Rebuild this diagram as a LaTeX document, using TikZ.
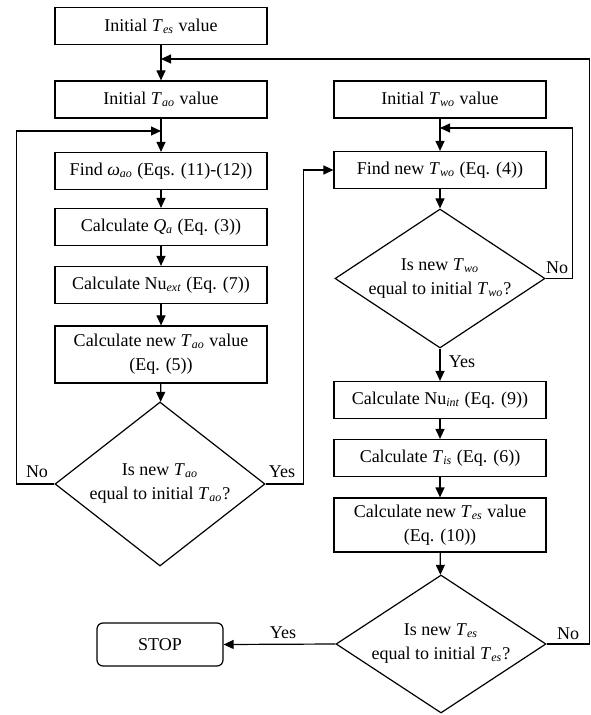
\documentclass[tikz,border=0pt]{standalone}
\usepackage{fontspec}
\setmainfont{Liberation Serif}
\usetikzlibrary{shapes.geometric,arrows.meta}
\newcommand{\Tsub}[2]{\textit{#1}\textsubscript{\textit{#2}}}
\newcommand{\Nusub}[1]{Nu\textsubscript{\textit{#1}}}

\tikzset{
  procbox/.style={draw, rectangle, minimum width=106pt, minimum height=18.5pt, inner sep=1pt, align=center},
  decide/.style={draw, diamond, aspect=1.5, inner sep=0pt, align=center, minimum width=105pt},
  stopbox/.style={draw, rectangle, rounded corners=3pt, minimum width=63pt, minimum height=21.5pt},
  flow/.style={-{Triangle[length=5pt,width=4.5pt]}},
  lbl/.style={inner sep=0pt}
}

\begin{document}
\begin{tikzpicture}[x=0.5pt, y=-0.5pt, line width=0.6pt, font=\fontsize{9}{12}\selectfont]
    \useasboundingbox (0,0) rectangle (590,715);

    % left column
    \node[procbox] (es0) at (161,26) {Initial \Tsub{T}{es} value};
    \node[procbox] (ao0) at (161,99.5) {Initial \Tsub{T}{ao} value};
    \node[procbox] (ao1) at (161,171) {Find \textit{ω}\textsubscript{\textit{ao}} (Eqs. (11)-(12))};
    \node[procbox] (qa) at (161,227) {Calculate \Tsub{Q}{a} (Eq. (3))};
    \node[procbox] (nuext) at (161,285) {Calculate \Nusub{ext} (Eq. (7))};
    \node[procbox, minimum height=28.5pt] (ao2) at (161,354.5) {Calculate new \Tsub{T}{ao} value\\(Eq. (5))};
    \node[decide, minimum height=82pt] (dia1) at (160,484) {Is new \Tsub{T}{ao}\\equal to initial \Tsub{T}{ao}?};
    \node[stopbox] (stop) at (160,644.5) {STOP};

    % right column
    \node[procbox] (wo0) at (440,99.5) {Initial \Tsub{T}{wo} value};
    \node[procbox] (wo1) at (440,170) {Find new \Tsub{T}{wo} (Eq. (4))};
    \node[decide, minimum height=69.5pt] (dia2) at (440,278.5) {Is new \Tsub{T}{wo}\\equal to initial \Tsub{T}{wo}?};
    \node[procbox] (nuint) at (440,400) {Calculate \Nusub{int} (Eq. (9))};
    \node[procbox] (tis) at (440,458) {Calculate \Tsub{T}{is} (Eq. (6))};
    \node[procbox, minimum height=27pt] (es1) at (440,525) {Calculate new \Tsub{T}{es} value\\(Eq. (10))};
    \node[decide, minimum height=69pt] (dia3) at (441,644) {Is new \Tsub{T}{es}\\equal to initial \Tsub{T}{es}?};

    % junctions
    \coordinate (jes) at (161,59);
    \coordinate (jao) at (161,131);
    \coordinate (jwo) at (440,128);

    % main flow
    \draw[flow] (es0) -- (ao0);
    \draw[flow] (ao0) -- (ao1);
    \draw[flow] (ao1) -- (qa);
    \draw[flow] (qa) -- (nuext);
    \draw[flow] (nuext) -- (ao2);
    \draw[flow] (ao2) -- (dia1);
    \draw[flow] (wo0) -- (wo1);
    \draw[flow] (wo1) -- (dia2);
    \draw[flow] (dia2) -- (nuint);
    \draw[flow] (nuint) -- (tis);
    \draw[flow] (tis) -- (es1);
    \draw[flow] (es1) -- (dia3);

    % loops
    \draw[flow] (dia1.west) -- ++(-38,0) |- (jao);
    \draw[flow] (dia1.east) -- ++(38,0) |- (wo1.west);
    \draw[flow] (dia2.east) -- ++(27,0) |- (jwo);
    \draw[flow] (dia3.east) -- ++(43,0) |- (jes);
    \draw[flow] (dia3.west) -- (stop.east);

    % labels
    \node[lbl] (no1) at (37,472) {No};
    \node[lbl] (yes1) at (282,472) {Yes};
    \node[lbl] (no2) at (557,268) {No};
    \node[lbl] (yes2) at (462,362) {Yes};
    \node[lbl] (no3) at (568,634) {No};
    \node[lbl] (yes3) at (283,633) {Yes};
\end{tikzpicture}
\end{document}
